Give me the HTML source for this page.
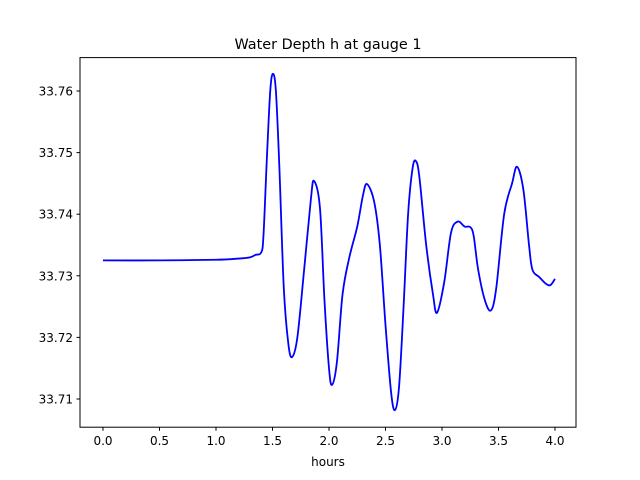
<!DOCTYPE html>
<html><head><meta charset="utf-8"><style>
body{margin:0;background:#fff}
svg{display:block;font-family:"DejaVu Sans","Liberation Sans",sans-serif}
</style></head><body>
<svg id="chart" width="640" height="480">
<rect width="640" height="480" fill="#fff"/>
<text x="328" y="49" text-anchor="middle" font-size="14.4">Water Depth h at gauge 1</text>
<g id="plot"></g>
<rect x="80" y="57.6" width="496" height="369.6" fill="none" stroke="#000" stroke-width="1"/>
<g id="xt"></g><g id="yt"></g>
<text x="328" y="466" text-anchor="middle" font-size="12">hours</text>
</svg>
<script>
const hours=[0,0.5,1.0,1.2,1.3,1.35,1.40,1.42,1.45,1.48,1.504,1.53,1.56,1.60,1.64,1.673,1.72,1.78,1.84,1.867,1.92,1.96,2.0,2.027,2.07,2.12,2.18,2.25,2.30,2.336,2.40,2.45,2.50,2.55,2.584,2.62,2.66,2.70,2.74,2.77,2.80,2.86,2.92,2.956,3.02,3.08,3.14,3.20,3.25,3.28,3.32,3.38,3.434,3.48,3.55,3.62,3.664,3.72,3.77,3.80,3.86,3.92,3.96,4.0];
const depth=[33.7325,33.7325,33.7326,33.7328,33.7330,33.7334,33.7338,33.7365,33.749,33.760,33.7628,33.760,33.748,33.728,33.719,33.7168,33.720,33.731,33.7425,33.7454,33.741,33.726,33.715,33.7123,33.716,33.727,33.733,33.738,33.743,33.7449,33.742,33.735,33.722,33.711,33.7082,33.712,33.725,33.740,33.7475,33.7486,33.746,33.735,33.727,33.724,33.729,33.737,33.7388,33.7380,33.7379,33.7365,33.731,33.726,33.7244,33.728,33.740,33.745,33.7477,33.744,33.735,33.731,33.7298,33.7287,33.7285,33.7295];
const xTicks=[0,0.5,1.0,1.5,2.0,2.5,3.0,3.5,4.0];
const yTicks=[33.71,33.72,33.73,33.74,33.75,33.76];
const X=v=>103+v*113, Y=v=>399-(v-33.71)*6160;
const NS='http://www.w3.org/2000/svg';
const pts=hours.map((h,i)=>[X(h),Y(depth[i])]);
let d='M'+pts[0][0]+','+pts[0][1];
for(let i=0;i<pts.length-1;i++){
 const p0=pts[Math.max(0,i-1)],p1=pts[i],p2=pts[i+1],p3=pts[Math.min(pts.length-1,i+2)];
 const c1=[p1[0]+(p2[0]-p0[0])/6,p1[1]+(p2[1]-p0[1])/6],c2=[p2[0]-(p3[0]-p1[0])/6,p2[1]-(p3[1]-p1[1])/6];
 d+=` C${c1[0]},${c1[1]} ${c2[0]},${c2[1]} ${p2[0]},${p2[1]}`;
}
const path=document.createElementNS(NS,'path');
path.setAttribute('d',d);path.setAttribute('fill','none');path.setAttribute('stroke','#0000ff');path.setAttribute('stroke-width','1.8');


document.getElementById('plot').appendChild(path);
const xt=document.getElementById('xt');
xTicks.forEach(t=>{
 const l=document.createElementNS(NS,'line');
 l.setAttribute('x1',X(t));l.setAttribute('x2',X(t));l.setAttribute('y1',427.2);l.setAttribute('y2',430.7);l.setAttribute('stroke','#000');
 
 
 xt.appendChild(l);
 const s=document.createElementNS(NS,'text');
 s.setAttribute('x',X(t));s.setAttribute('y',445);s.setAttribute('text-anchor','middle');s.setAttribute('font-size','12');
 s.textContent=t.toFixed(1);
 
 
 xt.appendChild(s);
});
const yt=document.getElementById('yt');
yTicks.forEach(t=>{
 const l=document.createElementNS(NS,'line');
 l.setAttribute('x1',76.5);l.setAttribute('x2',80);l.setAttribute('y1',Y(t));l.setAttribute('y2',Y(t));l.setAttribute('stroke','#000');
 
 
 yt.appendChild(l);
 const s=document.createElementNS(NS,'text');
 s.setAttribute('x',73);s.setAttribute('y',Y(t)+4.5);s.setAttribute('text-anchor','end');s.setAttribute('font-size','12');
 s.textContent=t.toFixed(2);
 
 
 yt.appendChild(s);
});
</script>
</body></html>
